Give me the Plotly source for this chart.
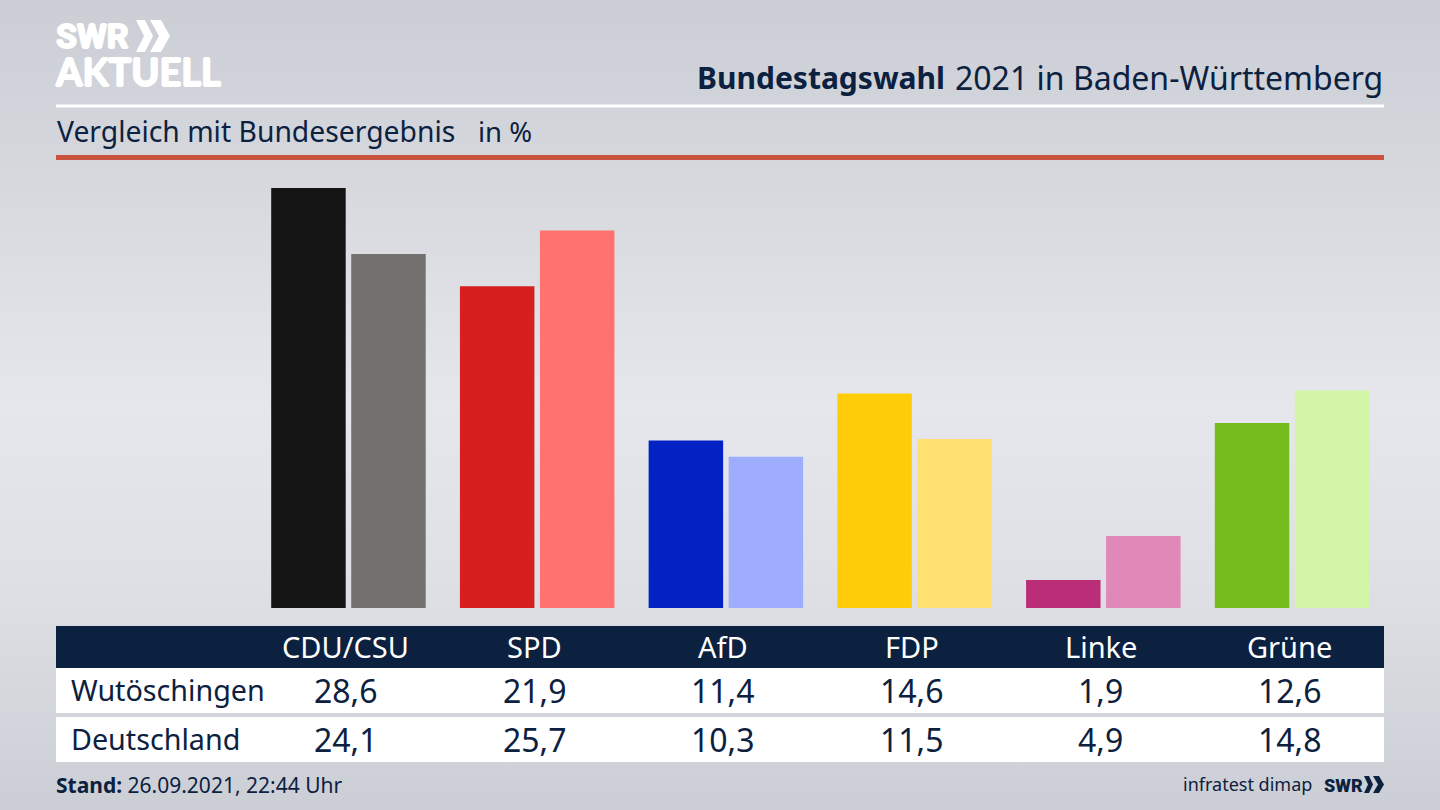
import plotly.graph_objects as go

parties = ["CDU/CSU", "SPD", "AfD", "FDP", "Linke", "Grüne"]
wutoeschingen = [28.6, 21.9, 11.4, 14.6, 1.9, 12.6]
deutschland = [24.1, 25.7, 10.3, 11.5, 4.9, 14.8]
colors_local = ["#141414", "#d61f1f", "#0322c4", "#ffcc0a", "#bc2d78", "#77bc1f"]
colors_national = ["#72716f", "#ff736e", "#9fadff", "#ffe070", "#e088b8", "#d3f5a8"]
row_names = ["Wutöschingen", "Deutschland"]

W, H = 1440, 810
NAVY = "#0c2140"
FONT = "Noto Sans"

def fx(p): return p / W
def fy(p): return 1 - p / H

fig = go.Figure()
fig.add_bar(name=row_names[0], x=parties, y=wutoeschingen, marker=dict(color=colors_local, line_width=0))
fig.add_bar(name=row_names[1], x=parties, y=deutschland, marker=dict(color=colors_national, line_width=0))

def rect(x0, y0, x1, y1, color):
    return dict(type="rect", xref="paper", yref="paper", x0=fx(x0), x1=fx(x1), y0=fy(y1), y1=fy(y0),
                fillcolor=color, line_width=0, layer="below")

def chevron(x, y, w, h, t, color):
    return dict(type="path", xref="paper", yref="paper", fillcolor=color, line_width=0, layer="above",
                path="M{} {} L{} {} L{} {} L{} {} L{} {} L{} {} Z".format(
                    fx(x), fy(y), fx(x + t), fy(y), fx(x + w), fy(y + h / 2),
                    fx(x + t), fy(y + h), fx(x), fy(y + h), fx(x + w - t), fy(y + h / 2)))

shapes = [
    rect(56, 104.5, 1384, 107.5, "#ffffff"),
    rect(56, 155, 1384, 160, "#c9533f"),
    rect(56, 626, 1384, 668, NAVY),
    rect(56, 668, 1384, 713, "#ffffff"),
    rect(56, 717, 1384, 762, "#ffffff"),
    chevron(136, 20, 17, 32, 9, "#ffffff"),
    chevron(150, 20, 20, 32, 11, "#ffffff"),
    chevron(1364, 776, 9, 17, 5, NAVY),
    chevron(1373, 776, 11, 17, 6, NAVY),
]

def text(x, y, s, size, color=NAVY, anchor="left", weight=None, family=FONT, ref="paper", xshift=0, shadow=None):
    f = dict(family=family, size=size, color=color)
    if weight:
        f["weight"] = weight
    if shadow:
        f["shadow"] = shadow
    return dict(xref="paper" if ref == "paper" else ref, yref="paper",
                x=fx(x) if ref == "paper" else x, y=fy(y), text=s, showarrow=False,
                xanchor=anchor, yanchor="middle", font=f, xshift=xshift,
                borderpad=0, borderwidth=0)

FAT_W = "1px 0 0 #ffffff, -1px 0 0 #ffffff, 0 1px 0 #ffffff, 0 -1px 0 #ffffff"

ann = [
    text(1383, 77, "2021 in Baden-Württemberg", 32, anchor="right"),
    text(945, 77, "<b>Bundestagswahl</b>", 30, anchor="right"),
    text(57, 131, "Vergleich mit Bundesergebnis", 28.3),
    text(478, 131, "in %", 27.5),
    text(56, 36, "SWR", 34, color="#ffffff", weight=700, family="Roboto", shadow=FAT_W),
    text(55, 71, "AKTUELL", 38, color="#ffffff", weight=700, family="Lato", shadow=FAT_W),
    text(56, 785, "<b>Stand:</b> 26.09.2021, 22:44 Uhr", 21),
    text(1312, 784, "infratest dimap", 18, anchor="right"),
    text(1324, 785, "SWR", 18, weight=900, family="Roboto"),
    text(71, 689, row_names[0], 28.7),
    text(71, 738, row_names[1], 28.7),
]
for i, p in enumerate(parties):
    ann.append(text(p, 646, p, 29, color="#ffffff", anchor="center", ref="x", xshift=-2.5))
    ann.append(text(p, 690, f"{wutoeschingen[i]:.1f}".replace(".", ","), 32, anchor="center", ref="x", xshift=-2.5))
    ann.append(text(p, 739, f"{deutschland[i]:.1f}".replace(".", ","), 32, anchor="center", ref="x", xshift=-2.5))

fig.update_layout(
    width=W, height=H, margin=dict(l=0, r=0, t=0, b=0, pad=0),
    paper_bgcolor="rgba(0,0,0,0)", plot_bgcolor="rgba(0,0,0,0)",
    barmode="group", bargap=0.152, bargroupgap=0.069, showlegend=False,
    xaxis=dict(domain=[fx(254.1), fx(1386.4)], showticklabels=False, showgrid=False, zeroline=False,
               ticks="", showline=False, range=[-0.5, 5.5], type="category", categoryorder="array", categoryarray=parties),
    yaxis=dict(domain=[fy(608), fy(160)], range=[0, 30.5], showticklabels=False, showgrid=False,
               zeroline=False, ticks="", showline=False),
    shapes=shapes, annotations=ann,
)

post = """
document.documentElement.style.height='100%';
document.body.style.margin='0';
document.body.style.width='1440px';
document.body.style.height='810px';
document.body.style.overflow='hidden';
document.body.style.background='linear-gradient(180deg,#cbced5 0%,#d6d8de 22%,#e6e7ec 50%,#dfe0e6 72%,#cbced5 100%)';
"""
fig.write_html("out.html", post_script=post, config={"displayModeBar": False})
